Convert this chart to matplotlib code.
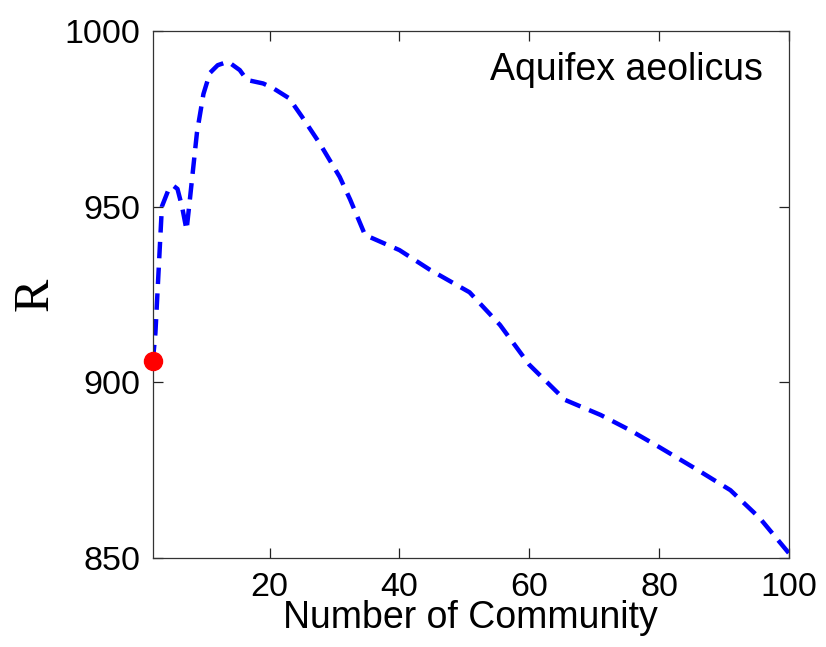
import numpy as np
import matplotlib.pyplot as plt

# R versus number of communities (Aquifex aeolicus network)
n_comm = [2, 2.4, 3.4, 4.4, 5.1, 5.8, 6.5, 7.2, 7.7, 8.8, 9.8, 10.8, 12, 13.6,
          15.4, 16.5, 19, 20.5, 23, 25, 27.7, 30.8, 32.4, 34.7, 40, 44.7, 50.8,
          55.5, 60, 65.5, 71, 75.5, 80, 86, 91, 95.5, 100]
r_vals = [906, 914, 950, 954.7, 956, 955, 950, 943.3, 951.8, 971, 982, 988,
          990.2, 991.2, 988.8, 986, 985, 983.7, 980.8, 975.5, 968, 958.4, 952,
          941.9, 937.6, 932, 925.6, 916.3, 905, 895, 890.7, 886.4, 881.6, 875,
          869.3, 861.4, 851.4]
species = 'Aquifex aeolicus'

plt.rcParams['font.family'] = ['Liberation Sans', 'DejaVu Sans']

fig = plt.figure(figsize=(8.26, 6.47), dpi=100)
ax = fig.add_axes([0.185, 0.1375, 0.77, 0.815])

ax.plot(n_comm, r_vals, color='#0000ff', lw=3.2, dashes=(3.7, 2.1))
ax.plot(n_comm[0], r_vals[0], 'o', color='#ff0000', ms=13, clip_on=False, zorder=5)

ax.set_xlim(2, 100)
ax.set_ylim(850, 1000)
ax.set_xticks([20, 40, 60, 80, 100])
ax.set_yticks([850, 900, 950, 1000])
ax.tick_params(direction='in', length=7, width=0.9, labelsize=24.5, top=True, right=True,
               colors='#222222', labelcolor='black')
ax.tick_params(axis='x', pad=10)
ax.tick_params(axis='y', pad=9)
for s in ax.spines.values():
    s.set_linewidth(0.9)
    s.set_color('#333333')

ax.set_xlabel('Number of Community', fontsize=27, labelpad=-2)
ax.set_ylabel('R', fontsize=36, family='Liberation Serif', labelpad=4)
ax.text(0.959, 0.96, species, transform=ax.transAxes, ha='right', va='top', fontsize=27)

fig.savefig('out.png', dpi=100)
